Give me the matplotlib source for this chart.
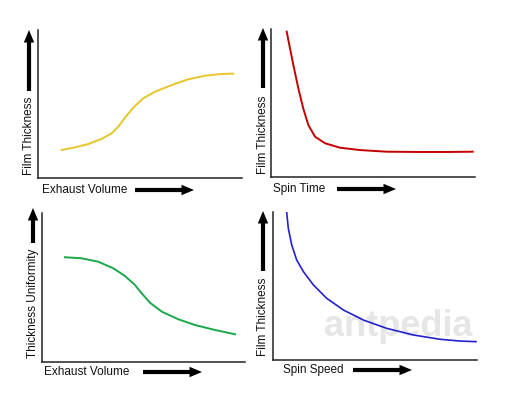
import matplotlib
matplotlib.use('Agg')
import matplotlib.pyplot as plt
from matplotlib.patches import FancyArrowPatch

plt.rcParams['font.family'] = ['Liberation Sans', 'DejaVu Sans']

# curve values (0-100 arbitrary units on both axes)
exhaust_x = [11.6, 18.1, 24.7, 31.2, 36.1, 39.4, 42.6, 46.7, 51.6, 57.4, 65.5, 73.7, 81.9, 90.0, 95.7]
exhaust_thick = [18.9, 20.7, 23.0, 26.4, 30.2, 34.7, 40.7, 47.5, 53.9, 58.3, 62.8, 66.7, 69.1, 70.3, 70.5]

spin_time = [7.7, 9.3, 11.3, 13.4, 15.8, 18.3, 21.6, 26.5, 33.8, 43.6, 56.7, 73.0, 86.1, 98.9]
spin_time_thick = [98.2, 87.0, 73.4, 59.9, 46.4, 35.1, 27.2, 22.8, 19.8, 18.2, 17.1, 16.9, 16.9, 17.1]

exhaust_x2 = [11.3, 19.6, 27.7, 35.1, 40.9, 45.8, 49.1, 53.2, 59.0, 67.1, 75.4, 85.2, 95.1]
uniformity = [70.3, 69.6, 67.3, 62.9, 57.7, 51.7, 46.1, 39.8, 33.8, 28.7, 24.8, 21.5, 18.6]

spin_speed = [6.7, 7.5, 9.2, 11.6, 14.9, 19.8, 26.3, 34.5, 44.3, 55.7, 68.8, 81.9, 91.7, 99.5]
spin_speed_thick = [100.0, 89.0, 77.7, 67.6, 59.7, 50.7, 41.7, 33.8, 27.0, 21.4, 16.9, 14.0, 12.8, 12.4]

W, H = 520, 397
fig = plt.figure(figsize=(W / 100, H / 100), dpi=100)


def add_panel(left, top, right, bottom):
    ax = fig.add_axes([left / W, 1 - bottom / H, (right - left) / W, (bottom - top) / H])
    ax.set_facecolor('none')
    ax.set_xlim(0, 100)
    ax.set_ylim(0, 100)
    for side in ['top', 'right']:
        ax.spines[side].set_visible(False)
    for side in ['left', 'bottom']:
        ax.spines[side].set_color('#222222')
        ax.spines[side].set_linewidth(1.1)
    ax.set_xticks([])
    ax.set_yticks([])
    return ax


def arrow(x0, y0, x1, y1):
    fig.add_artist(FancyArrowPatch(
        (x0 / W, 1 - y0 / H), (x1 / W, 1 - y1 / H), transform=fig.transFigure,
        arrowstyle='simple,head_length=0.9,head_width=0.75,tail_width=0.3',
        mutation_scale=10, lw=0, color='black', shrinkA=0, shrinkB=0))


def xlabel(text, x, y):
    fig.text(x / W, 1 - y / H, text, ha='left', va='center', fontsize=8.5, color='#111111')


def ylabel(text, x, y_bottom):
    fig.text(x / W, 1 - y_bottom / H, text, ha='center', va='bottom', rotation=90,
             fontsize=8.5, color='#111111')


# faint watermark, behind everything
fig.text(398 / W, 1 - 326 / H, 'antpedia', ha='center', va='center', fontsize=26,
         fontweight='bold', color='#e6e6e6', zorder=-5)

ax1 = add_panel(38, 30, 242, 178)
ax1.plot(exhaust_x, exhaust_thick, color='#e6c62a', lw=1.4)
ax2 = add_panel(271, 29, 475, 177)
ax2.plot(spin_time, spin_time_thick, color='#c40000', lw=1.4)
ax3 = add_panel(42, 213, 245, 362)
ax3.plot(exhaust_x2, uniformity, color='#1aa84a', lw=1.4)
ax4 = add_panel(273, 212, 477, 360)
ax4.plot(spin_speed, spin_speed_thick, color='#2222cc', lw=1.2)

# x labels and arrows
xlabel('Exhaust Volume', 42, 190)
arrow(135, 190, 194, 190)
xlabel('Spin Time', 273, 189)
arrow(337, 189, 396, 189)
xlabel('Exhaust Volume', 44, 372)
arrow(143, 372, 202, 372)
xlabel('Spin Speed', 283, 370)
arrow(353, 370, 412, 370)

# y labels and arrows
ylabel('Film Thickness', 29, 175)
arrow(29, 91, 29, 30)
ylabel('Film Thickness', 263, 174)
arrow(263, 88, 263, 28)
ylabel('Thickness Uniformity', 33, 358)
arrow(33, 243, 33, 208)
ylabel('Film Thickness', 263, 356)
arrow(263, 271, 263, 211)

fig.savefig('out.png', dpi=100, facecolor='white')
